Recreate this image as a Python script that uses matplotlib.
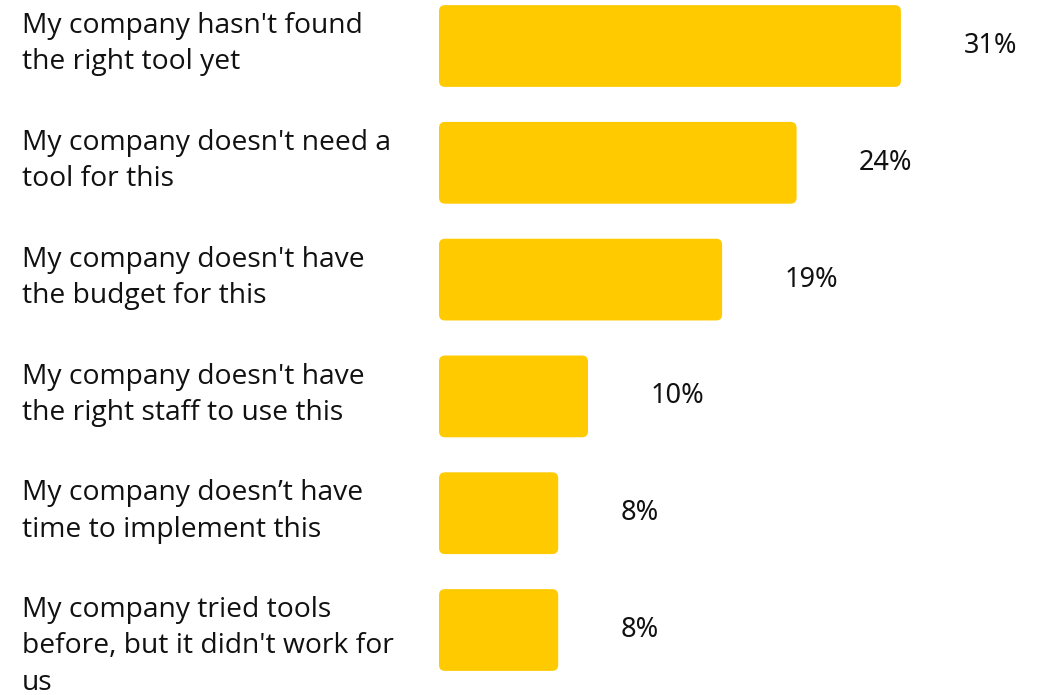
import matplotlib
matplotlib.use("Agg")
import matplotlib.pyplot as plt
from matplotlib.patches import FancyBboxPatch
import matplotlib.transforms as mtransforms

labels = [
    "My company hasn't found\nthe right tool yet",
    "My company doesn't need a\ntool for this",
    "My company doesn't have\nthe budget for this",
    "My company doesn't have\nthe right staff to use this",
    "My company doesn\u2019t have\ntime to implement this",
    "My company tried tools\nbefore, but it didn't work for\nus",
]
values = [31, 24, 19, 10, 8, 8]
value_labels = ["31%", "24%", "19%", "10%", "8%", "8%"]

bar_color = "#FFCA00"

px_x = 14.9    # pixels per percent
px_y = 116.8   # pixels per row

fig = plt.figure(figsize=(10.45, 6.95), dpi=100)
ax = fig.add_axes([439 / 1045, 0, 1 - 439 / 1045, 1])
ax.set_xlim(0, 606 / px_x)
ax.set_ylim(5 + 65 / px_y, -46 / px_y)
ax.axis("off")

bars = ax.barh(range(len(values)), values, height=0.70, color=bar_color)

# swap plain bars for rounded ones (radius ~6px)
r = 6
for b in bars:
    b.set_visible(False)
    p = FancyBboxPatch((b.get_x(), b.get_y()), b.get_width(), b.get_height(),
                       boxstyle="round,pad=0,rounding_size=%f" % (r / px_x),
                       mutation_aspect=px_x / px_y,
                       facecolor=bar_color, edgecolor="none")
    ax.add_patch(p)

trans = mtransforms.blended_transform_factory(fig.transFigure, ax.transData)
for i, (lab, v, vl) in enumerate(zip(labels, values, value_labels)):
    ax.text(22 / 1045, i - 0.29, lab, transform=trans, ha="left", va="top",
            fontsize=20.3, family="Open Sans", linespacing=1.39, color="#111111")
    ax.text(v + 4.2, i, vl, ha="left", va="center",
            fontsize=19.5, family="Noto Sans", color="#111111")

fig.savefig("out.png", dpi=100)
